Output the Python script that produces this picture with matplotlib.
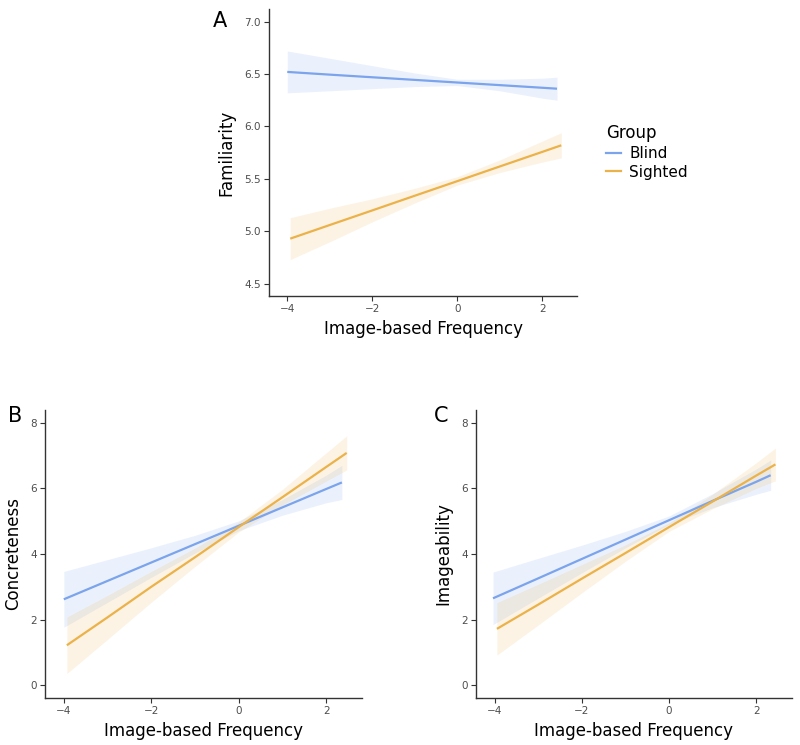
import matplotlib
matplotlib.use("Agg")
import matplotlib.pyplot as plt
from matplotlib.lines import Line2D

plt.rcParams['font.family'] = ['DejaVu Sans']

groups = ["Blind", "Sighted"]
colors = {"Blind": "#7BA4EC", "Sighted": "#EBB24A"}

# Panel A: Familiarity
A_blind_x = [-4.0, -3, -2, -1, 0, 1, 2, 2.35]
A_blind_fit = [6.52, 6.494, 6.469, 6.444, 6.419, 6.394, 6.369, 6.36]
A_blind_lo = [6.32, 6.34, 6.36, 6.38, 6.39, 6.34, 6.27, 6.25]
A_blind_hi = [6.72, 6.65, 6.58, 6.51, 6.45, 6.45, 6.46, 6.47]
A_sight_x = [-3.93, -3, -2, -1, 0, 1, 2, 2.45]
A_sight_fit = [4.93, 5.06, 5.199, 5.339, 5.478, 5.618, 5.757, 5.82]
A_sight_lo = [4.73, 4.90, 5.09, 5.27, 5.44, 5.56, 5.66, 5.70]
A_sight_hi = [5.13, 5.22, 5.31, 5.41, 5.52, 5.68, 5.86, 5.94]

# Panel B: Concreteness
B_blind_x = [-4.0, -3, -2, -1, 0, 1, 2, 2.36]
B_blind_fit = [2.62, 3.18, 3.74, 4.30, 4.86, 5.42, 5.98, 6.18]
B_blind_lo = [1.77, 2.53, 3.29, 4.03, 4.71, 5.18, 5.56, 5.66]
B_blind_hi = [3.47, 3.83, 4.19, 4.57, 5.01, 5.66, 6.40, 6.70]
B_sight_x = [-3.93, -3, -2, -1, 0, 1, 2, 2.47]
B_sight_fit = [1.22, 2.07, 3.00, 3.90, 4.82, 5.73, 6.65, 7.08]
B_sight_lo = [0.36, 1.40, 2.53, 3.62, 4.67, 5.49, 6.22, 6.56]
B_sight_hi = [2.08, 2.74, 3.47, 4.18, 4.97, 5.97, 7.08, 7.60]

# Panel C: Imageability
C_blind_x = [-4.04, -3, -2, -1, 0, 1, 2, 2.33]
C_blind_fit = [2.65, 3.26, 3.85, 4.44, 5.03, 5.62, 6.20, 6.40]
C_blind_lo = [1.85, 2.66, 3.43, 4.19, 4.90, 5.41, 5.82, 5.94]
C_blind_hi = [3.45, 3.87, 4.27, 4.69, 5.16, 5.84, 6.59, 6.86]
C_sight_x = [-3.95, -3, -2, -1, 0, 1, 2, 2.44]
C_sight_fit = [1.72, 2.46, 3.25, 4.03, 4.82, 5.60, 6.39, 6.73]
C_sight_lo = [0.92, 1.84, 2.82, 3.78, 4.69, 5.38, 6.00, 6.23]
C_sight_hi = [2.52, 3.08, 3.68, 4.28, 4.95, 5.82, 6.78, 7.23]

x_ticks = [-4, -2, 0, 2]
x_label = "Image-based Frequency"

W, H = 800, 745
fig = plt.figure(figsize=(W / 100, H / 100), dpi=100)


def make_ax(l, r, t, b):
    return fig.add_axes([l / W, 1 - b / H, (r - l) / W, (b - t) / H])


def style(ax, ylabel, ylim, yticks, ytickfmt):
    ax.set_xlim(-4.43, 2.82)
    ax.set_ylim(*ylim)
    ax.set_xticks(x_ticks)
    ax.set_xticklabels(["\u22124", "\u22122", "0", "2"])
    ax.set_yticks(yticks)
    ax.set_yticklabels([ytickfmt.format(v) for v in yticks])
    for s in ["top", "right"]:
        ax.spines[s].set_visible(False)
    for s in ["left", "bottom"]:
        ax.spines[s].set_color("#333333")
        ax.spines[s].set_linewidth(1.0)
    ax.tick_params(axis="both", colors="#333333", labelcolor="#4D4D4D",
                   labelsize=7.5, length=3.5, width=0.8, pad=2.5)
    ax.set_xlabel(x_label, fontsize=12, labelpad=4)
    ax.set_ylabel(ylabel, fontsize=12, labelpad=6)


def draw(ax, series):
    for name, xs, fit, lo, hi in series:
        ax.fill_between(xs, lo, hi, color=colors[name], alpha=0.15, lw=0)
    for name, xs, fit, lo, hi in series:
        ax.plot(xs, fit, color=colors[name], lw=1.6, solid_capstyle="butt")


axA = make_ax(269, 577, 9, 296)
draw(axA, [("Blind", A_blind_x, A_blind_fit, A_blind_lo, A_blind_hi),
           ("Sighted", A_sight_x, A_sight_fit, A_sight_lo, A_sight_hi)])
style(axA, "Familiarity", (4.383, 7.12), [4.5, 5.0, 5.5, 6.0, 6.5, 7.0], "{:.1f}")

axB = make_ax(45, 362, 410, 698)
draw(axB, [("Blind", B_blind_x, B_blind_fit, B_blind_lo, B_blind_hi),
           ("Sighted", B_sight_x, B_sight_fit, B_sight_lo, B_sight_hi)])
style(axB, "Concreteness", (-0.387, 8.387), [0, 2, 4, 6, 8], "{:d}")

axC = make_ax(476, 792, 410, 698)
draw(axC, [("Blind", C_blind_x, C_blind_fit, C_blind_lo, C_blind_hi),
           ("Sighted", C_sight_x, C_sight_fit, C_sight_lo, C_sight_hi)])
style(axC, "Imageability", (-0.387, 8.387), [0, 2, 4, 6, 8], "{:d}")

# panel letters
fig.text(213 / W, 1 - 27 / H, "A", fontsize=15)
fig.text(8 / W, 1 - 422 / H, "B", fontsize=15)
fig.text(434 / W, 1 - 422 / H, "C", fontsize=15)

# legend
handles = [Line2D([0], [0], color=colors[g], lw=1.6) for g in groups]
leg = fig.legend(handles, groups, title="Group", loc="upper left",
                 bbox_to_anchor=(600 / W, 1 - 118 / H), frameon=False,
                 fontsize=11, title_fontsize=12, handlelength=1.0,
                 handletextpad=0.5, labelspacing=0.25, borderaxespad=0)
leg._legend_box.align = "left"

fig.savefig("out.png", dpi=100)
